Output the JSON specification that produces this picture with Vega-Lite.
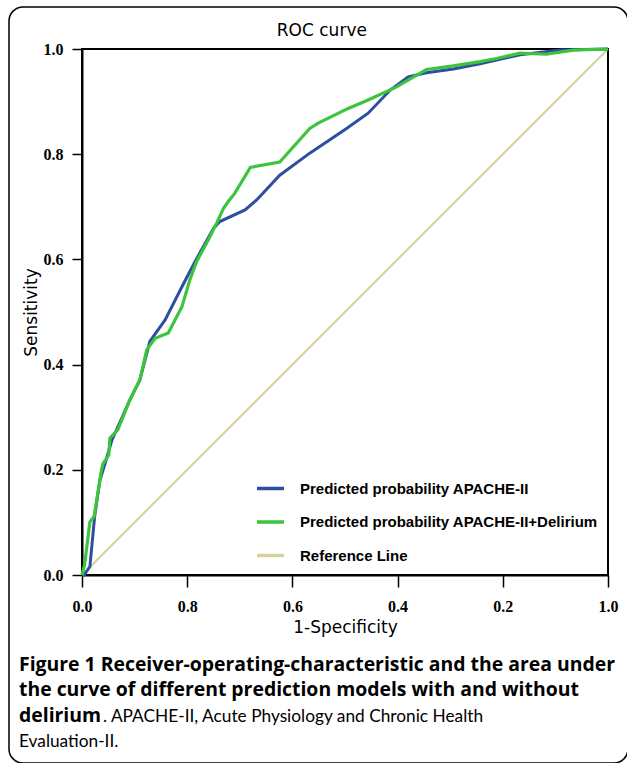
{
  "$schema": "https://vega.github.io/schema/vega-lite/v6.json",
  "width": 526,
  "height": 526,
  "autosize": {"type": "none"},
  "padding": {"left": 82, "top": 49, "right": 19, "bottom": 188},
  "background": "white",
  "config": {
    "view": {"stroke": "black", "strokeWidth": 2},
    "axis": {"domainColor": "black", "domainWidth": 2, "tickColor": "black", "tickWidth": 1.5, "labelFont": "Liberation Serif", "labelFontWeight": "bold", "labelFontSize": 16, "labelColor": "black", "titleFont": "DejaVu Sans", "titleFontSize": 17, "titleFontWeight": "normal", "titleColor": "black", "grid": false},
    "legend": {"labelFont": "Liberation Sans", "labelFontWeight": "bold", "labelFontSize": 15, "labelColor": "black", "labelLimit": 0}
  },
  "datasets": {
    "roc": [
      {"series": "Reference Line", "fpr": 0, "tpr": 0},
      {"series": "Reference Line", "fpr": 1, "tpr": 1},
      {"series": "Predicted probability APACHE-II", "fpr": 0, "tpr": 0},
      {"series": "Predicted probability APACHE-II", "fpr": 0.004, "tpr": 0.0},
      {"series": "Predicted probability APACHE-II", "fpr": 0.015, "tpr": 0.016},
      {"series": "Predicted probability APACHE-II", "fpr": 0.024, "tpr": 0.111},
      {"series": "Predicted probability APACHE-II", "fpr": 0.034, "tpr": 0.18},
      {"series": "Predicted probability APACHE-II", "fpr": 0.046, "tpr": 0.219},
      {"series": "Predicted probability APACHE-II", "fpr": 0.057, "tpr": 0.257},
      {"series": "Predicted probability APACHE-II", "fpr": 0.067, "tpr": 0.279},
      {"series": "Predicted probability APACHE-II", "fpr": 0.091, "tpr": 0.333},
      {"series": "Predicted probability APACHE-II", "fpr": 0.11, "tpr": 0.371},
      {"series": "Predicted probability APACHE-II", "fpr": 0.129, "tpr": 0.444},
      {"series": "Predicted probability APACHE-II", "fpr": 0.158, "tpr": 0.485},
      {"series": "Predicted probability APACHE-II", "fpr": 0.19, "tpr": 0.548},
      {"series": "Predicted probability APACHE-II", "fpr": 0.215, "tpr": 0.596},
      {"series": "Predicted probability APACHE-II", "fpr": 0.25, "tpr": 0.659},
      {"series": "Predicted probability APACHE-II", "fpr": 0.262, "tpr": 0.672},
      {"series": "Predicted probability APACHE-II", "fpr": 0.31, "tpr": 0.694},
      {"series": "Predicted probability APACHE-II", "fpr": 0.332, "tpr": 0.713},
      {"series": "Predicted probability APACHE-II", "fpr": 0.376, "tpr": 0.76},
      {"series": "Predicted probability APACHE-II", "fpr": 0.433, "tpr": 0.802},
      {"series": "Predicted probability APACHE-II", "fpr": 0.503, "tpr": 0.849},
      {"series": "Predicted probability APACHE-II", "fpr": 0.544, "tpr": 0.878},
      {"series": "Predicted probability APACHE-II", "fpr": 0.586, "tpr": 0.922},
      {"series": "Predicted probability APACHE-II", "fpr": 0.62, "tpr": 0.947},
      {"series": "Predicted probability APACHE-II", "fpr": 0.655, "tpr": 0.955},
      {"series": "Predicted probability APACHE-II", "fpr": 0.706, "tpr": 0.962},
      {"series": "Predicted probability APACHE-II", "fpr": 0.757, "tpr": 0.972},
      {"series": "Predicted probability APACHE-II", "fpr": 0.833, "tpr": 0.989},
      {"series": "Predicted probability APACHE-II", "fpr": 0.909, "tpr": 0.998},
      {"series": "Predicted probability APACHE-II", "fpr": 1, "tpr": 1},
      {"series": "Predicted probability APACHE-II+Delirium", "fpr": 0, "tpr": 0},
      {"series": "Predicted probability APACHE-II+Delirium", "fpr": 0.005, "tpr": 0.02},
      {"series": "Predicted probability APACHE-II+Delirium", "fpr": 0.015, "tpr": 0.101},
      {"series": "Predicted probability APACHE-II+Delirium", "fpr": 0.023, "tpr": 0.111},
      {"series": "Predicted probability APACHE-II+Delirium", "fpr": 0.037, "tpr": 0.2},
      {"series": "Predicted probability APACHE-II+Delirium", "fpr": 0.04, "tpr": 0.212},
      {"series": "Predicted probability APACHE-II+Delirium", "fpr": 0.051, "tpr": 0.228},
      {"series": "Predicted probability APACHE-II+Delirium", "fpr": 0.053, "tpr": 0.26},
      {"series": "Predicted probability APACHE-II+Delirium", "fpr": 0.068, "tpr": 0.276},
      {"series": "Predicted probability APACHE-II+Delirium", "fpr": 0.091, "tpr": 0.333},
      {"series": "Predicted probability APACHE-II+Delirium", "fpr": 0.11, "tpr": 0.371},
      {"series": "Predicted probability APACHE-II+Delirium", "fpr": 0.123, "tpr": 0.428},
      {"series": "Predicted probability APACHE-II+Delirium", "fpr": 0.139, "tpr": 0.45},
      {"series": "Predicted probability APACHE-II+Delirium", "fpr": 0.164, "tpr": 0.46},
      {"series": "Predicted probability APACHE-II+Delirium", "fpr": 0.19, "tpr": 0.51},
      {"series": "Predicted probability APACHE-II+Delirium", "fpr": 0.205, "tpr": 0.561},
      {"series": "Predicted probability APACHE-II+Delirium", "fpr": 0.218, "tpr": 0.596},
      {"series": "Predicted probability APACHE-II+Delirium", "fpr": 0.24, "tpr": 0.637},
      {"series": "Predicted probability APACHE-II+Delirium", "fpr": 0.256, "tpr": 0.669},
      {"series": "Predicted probability APACHE-II+Delirium", "fpr": 0.269, "tpr": 0.697},
      {"series": "Predicted probability APACHE-II+Delirium", "fpr": 0.278, "tpr": 0.71},
      {"series": "Predicted probability APACHE-II+Delirium", "fpr": 0.29, "tpr": 0.725},
      {"series": "Predicted probability APACHE-II+Delirium", "fpr": 0.32, "tpr": 0.775},
      {"series": "Predicted probability APACHE-II+Delirium", "fpr": 0.376, "tpr": 0.785},
      {"series": "Predicted probability APACHE-II+Delirium", "fpr": 0.433, "tpr": 0.849},
      {"series": "Predicted probability APACHE-II+Delirium", "fpr": 0.449, "tpr": 0.859},
      {"series": "Predicted probability APACHE-II+Delirium", "fpr": 0.506, "tpr": 0.887},
      {"series": "Predicted probability APACHE-II+Delirium", "fpr": 0.544, "tpr": 0.903},
      {"series": "Predicted probability APACHE-II+Delirium", "fpr": 0.598, "tpr": 0.928},
      {"series": "Predicted probability APACHE-II+Delirium", "fpr": 0.624, "tpr": 0.943},
      {"series": "Predicted probability APACHE-II+Delirium", "fpr": 0.655, "tpr": 0.961},
      {"series": "Predicted probability APACHE-II+Delirium", "fpr": 0.706, "tpr": 0.968},
      {"series": "Predicted probability APACHE-II+Delirium", "fpr": 0.757, "tpr": 0.976},
      {"series": "Predicted probability APACHE-II+Delirium", "fpr": 0.788, "tpr": 0.982},
      {"series": "Predicted probability APACHE-II+Delirium", "fpr": 0.833, "tpr": 0.992},
      {"series": "Predicted probability APACHE-II+Delirium", "fpr": 0.883, "tpr": 0.99},
      {"series": "Predicted probability APACHE-II+Delirium", "fpr": 0.934, "tpr": 0.998},
      {"series": "Predicted probability APACHE-II+Delirium", "fpr": 1, "tpr": 1}
    ]
  },
  "layer": [
    {
      "data": {"values": [{"box": "figure"}]},
      "mark": {"type": "rect", "fill": "transparent", "stroke": "black", "strokeWidth": 1.5, "cornerRadius": 14},
      "encoding": {
        "x": {"datum": -0.1388, "type": "quantitative", "scale": {"domain": [0, 1], "nice": false}},
        "x2": {"datum": 1.038},
        "y": {"datum": 1.0798, "type": "quantitative", "scale": {"domain": [0, 1], "nice": false}},
        "y2": {"datum": -0.3574}
      }
    },
    {
      "data": {"values": [{"caption": "ROC curve"}]},
      "mark": {"type": "text", "align": "center", "baseline": "alphabetic", "font": "DejaVu Sans", "fontWeight": "normal", "fontSize": 17, "color": "black"},
      "encoding": {"x": {"datum": 0.456, "type": "quantitative"}, "y": {"datum": 1.0247, "type": "quantitative"}, "text": {"field": "caption"}}
    },
    {
      "data": {"name": "roc"},
      "transform": [{"filter": "datum.series === 'Reference Line'"}],
      "mark": {"type": "line", "strokeWidth": 2},
      "encoding": {
        "x": {"field": "fpr", "type": "quantitative", "title": "1-Specificity", "scale": {"domain": [0, 1], "nice": false},
          "axis": {"values": [0, 0.2, 0.4, 0.6, 0.8, 1], "labelExpr": "datum.value == 0 ? '0.0' : datum.value == 1 ? '1.0' : format(1 - datum.value, '.1f')", "tickSize": 12, "labelPadding": 11, "titlePadding": 5, "labelFlush": false}},
        "y": {"field": "tpr", "type": "quantitative", "title": "Sensitivity", "scale": {"domain": [0, 1], "nice": false},
          "axis": {"values": [0, 0.2, 0.4, 0.6, 0.8, 1], "format": ".1f", "tickSize": 10, "labelPadding": 9, "titlePadding": 3, "labelFlush": false}},
        "color": {"field": "series", "type": "nominal",
          "scale": {"domain": ["Predicted probability APACHE-II", "Predicted probability APACHE-II+Delirium", "Reference Line"], "range": ["#2e4ea0", "#3dc43d", "#d6d2a0"]},
          "legend": {"title": null, "orient": "none", "legendX": 173, "legendY": 424, "padding": 0, "symbolType": "stroke", "symbolSize": 729, "symbolStrokeWidth": 3.5, "labelOffset": 14, "rowPadding": 9.5}}
      }
    },
    {
      "data": {"name": "roc"},
      "transform": [{"filter": "datum.series === 'Predicted probability APACHE-II'"}],
      "mark": {"type": "line", "strokeWidth": 3},
      "encoding": {
        "x": {"field": "fpr", "type": "quantitative"},
        "y": {"field": "tpr", "type": "quantitative"},
        "color": {"field": "series", "type": "nominal"}
      }
    },
    {
      "data": {"name": "roc"},
      "transform": [{"filter": "datum.series === 'Predicted probability APACHE-II+Delirium'"}],
      "mark": {"type": "line", "strokeWidth": 3.2},
      "encoding": {
        "x": {"field": "fpr", "type": "quantitative"},
        "y": {"field": "tpr", "type": "quantitative"},
        "color": {"field": "series", "type": "nominal"}
      }
    },
    {
      "data": {"values": [{"caption": "Figure 1 Receiver-operating-characteristic and the area under"}]},
      "mark": {"type": "text", "align": "left", "baseline": "alphabetic", "font": "Open Sans", "fontWeight": "bold", "fontSize": 19.4, "color": "black"},
      "encoding": {"x": {"datum": -0.1198, "type": "quantitative"}, "y": {"datum": -0.1825, "type": "quantitative"}, "text": {"field": "caption"}}
    },
    {
      "data": {"values": [{"caption": "the curve of different prediction models with and without"}]},
      "mark": {"type": "text", "align": "left", "baseline": "alphabetic", "font": "Open Sans", "fontWeight": "bold", "fontSize": 19.4, "color": "black"},
      "encoding": {"x": {"datum": -0.1198, "type": "quantitative"}, "y": {"datum": -0.23, "type": "quantitative"}, "text": {"field": "caption"}}
    },
    {
      "data": {"values": [{"caption": "delirium"}]},
      "mark": {"type": "text", "align": "left", "baseline": "alphabetic", "font": "Open Sans", "fontWeight": "bold", "fontSize": 19.4, "color": "black"},
      "encoding": {"x": {"datum": -0.1198, "type": "quantitative"}, "y": {"datum": -0.2795, "type": "quantitative"}, "text": {"field": "caption"}}
    },
    {
      "data": {"values": [{"caption": ". APACHE-II, Acute Physiology and Chronic Health"}]},
      "mark": {"type": "text", "align": "left", "baseline": "alphabetic", "font": "Lato", "fontWeight": "normal", "fontSize": 17.3, "color": "black", "dx": 84},
      "encoding": {"x": {"datum": -0.1198, "type": "quantitative"}, "y": {"datum": -0.2795, "type": "quantitative"}, "text": {"field": "caption"}}
    },
    {
      "data": {"values": [{"caption": "Evaluation-II."}]},
      "mark": {"type": "text", "align": "left", "baseline": "alphabetic", "font": "Lato", "fontWeight": "normal", "fontSize": 17.3, "color": "black"},
      "encoding": {"x": {"datum": -0.1198, "type": "quantitative"}, "y": {"datum": -0.327, "type": "quantitative"}, "text": {"field": "caption"}}
    }
  ]
}
